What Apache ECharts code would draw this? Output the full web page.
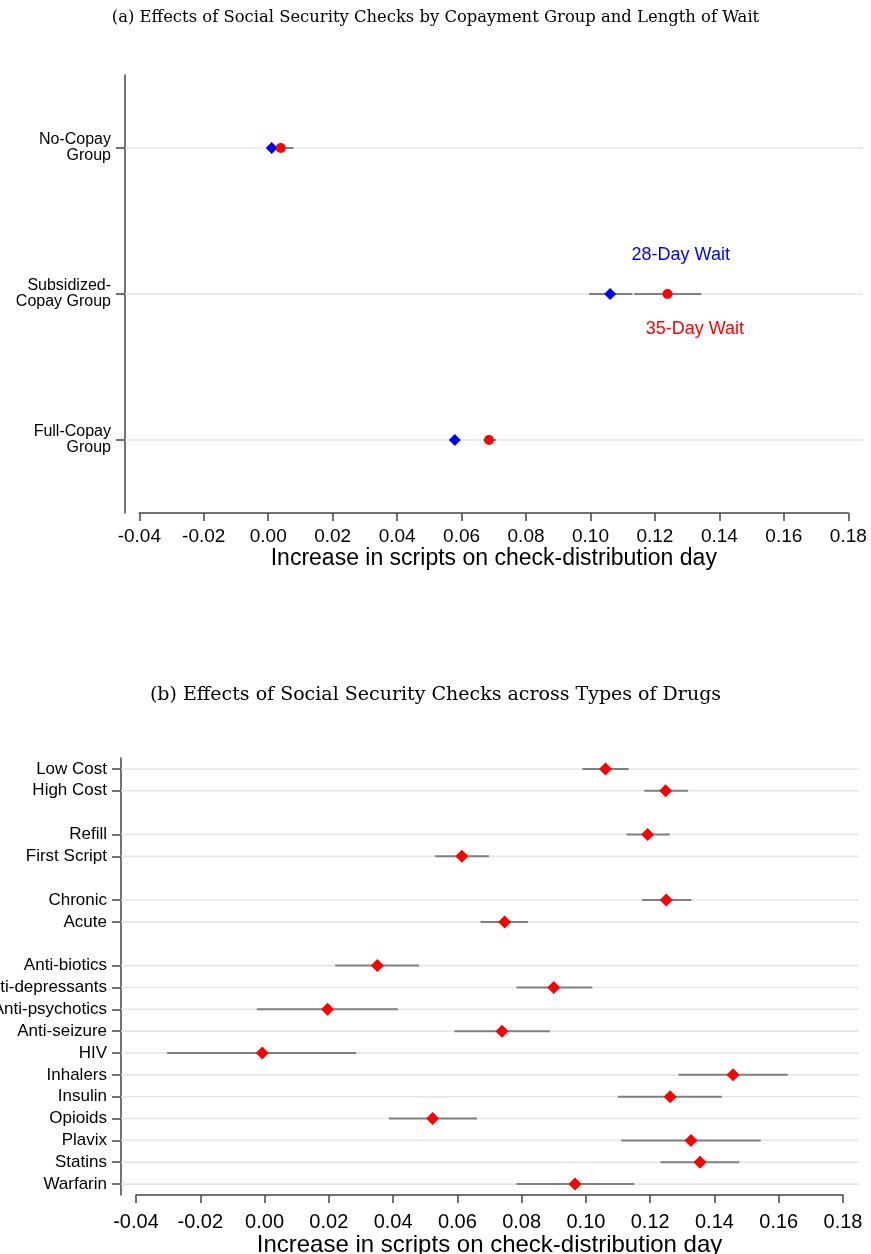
<!DOCTYPE html>
<html>
<head>
<meta charset="utf-8">
<script src="https://cdn.jsdelivr.net/npm/echarts@6/dist/echarts.min.js"></script>
<style>
  html, body { margin: 0; padding: 0; background: #fff; }
  #main { width: 871px; height: 1254px; }
</style>
</head>
<body>
<div id="main"></div>
<script>
// panel (a): copayment groups, two waiting lengths
var groupNames = ['No-Copay\nGroup', 'Subsidized-\nCopay Group', 'Full-Copay\nGroup'];
var wait28 = [0.0011, 0.1061, 0.0579];
var wait28Lo = [-0.0003, 0.0996, 0.0565];
var wait28Hi = [0.0025, 0.1130, 0.0593];
var wait35 = [0.0039, 0.1239, 0.0685];
var wait35Lo = [-0.0001, 0.1136, 0.0668];
var wait35Hi = [0.0078, 0.1344, 0.0707];
var waitLabels = ['28-Day Wait', '35-Day Wait'];
var waitLabelX = [0.128, 0.1324];
var waitLabelY = [0.73, 1.24];   // in row units, between category rows

// panel (b): drug types (blank names are spacer rows)
var drugNames = ['Low Cost', 'High Cost', '', 'Refill', 'First Script', ' ', 'Chronic', 'Acute', '  ',
    'Anti-biotics', 'Anti-depressants', 'Anti-psychotics', 'Anti-seizure', 'HIV', 'Inhalers',
    'Insulin', 'Opioids', 'Plavix', 'Statins', 'Warfarin'];
var drugEst = [0.1061, 0.1248, null, 0.1192, 0.0614, null, 0.1250, 0.0747, null,
    0.0351, 0.0900, 0.0196, 0.0739, -0.0007, 0.1458, 0.1262, 0.0523, 0.1327, 0.1355, 0.0966];
var drugLo = [0.0989, 0.1182, null, 0.1126, 0.0531, null, 0.1175, 0.0672, null,
    0.0220, 0.0784, -0.0024, 0.0591, -0.0303, 0.1288, 0.1099, 0.0387, 0.1110, 0.1232, 0.0784];
var drugHi = [0.1133, 0.1318, null, 0.1261, 0.0698, null, 0.1328, 0.0820, null,
    0.0481, 0.1020, 0.0415, 0.0888, 0.0285, 0.1628, 0.1423, 0.0661, 0.1544, 0.1477, 0.1150];

var xMin = -0.04, xMax = 0.18;
var xTitle = 'Increase in scripts on check-distribution day';
var axisColor = '#444';

var chart = echarts.init(document.getElementById('main'));

function isRow(name) { return name.trim() !== ''; }

// light horizontal rule through each labelled row, running past the plot edges
function gridRows(names, padL, padR) {
    var rows = [];
    names.forEach(function(n, i) { if (isRow(n)) rows.push([xMin, xMax, i]); });
    return {
        rows: rows,
        render: function(params, api) {
            var a = api.coord([api.value(0), api.value(2)]);
            var b = api.coord([api.value(1), api.value(2)]);
            return {
                type: 'line',
                shape: { x1: a[0] - padL, y1: a[1], x2: b[0] + padR, y2: b[1] },
                style: { stroke: '#e6e6e6', lineWidth: 1.6 }
            };
        }
    };
}

function ciRender(params, api) {
    var a = api.coord([api.value(0), api.value(2)]);
    var b = api.coord([api.value(1), api.value(2)]);
    return {
        type: 'line',
        shape: { x1: a[0], y1: a[1], x2: b[0], y2: b[1] },
        style: { stroke: '#808080', lineWidth: 2 }
    };
}

function ciData(lo, hi) {
    var out = [];
    lo.forEach(function(v, i) { if (v != null) out.push([v, hi[i], i]); });
    return out;
}

function pts(est) {
    var out = [];
    est.forEach(function(v, i) { if (v != null) out.push([v, i]); });
    return out;
}

var topGrid = gridRows(groupNames, 14.3, 14.7);
var botGrid = gridRows(drugNames, 15, 16);

var option = {
    animation: false,
    backgroundColor: '#fff',
    title: [
        {
            text: '(a) Effects of Social Security Checks by Copayment Group and Length of Wait',
            left: 'center', top: 5,
            textStyle: { fontFamily: 'DejaVu Serif', fontWeight: 'normal', fontSize: 16.4, color: '#000' }
        },
        {
            text: '(b) Effects of Social Security Checks across Types of Drugs',
            left: 'center', top: 681,
            textStyle: { fontFamily: 'DejaVu Serif', fontWeight: 'normal', fontSize: 19, color: '#000' }
        }
    ],
    // long labels may run off the left edge, as in the original
    grid: [
        { left: 139.3, right: 22.7, top: 75, height: 438, outerBoundsMode: 'none' },
        { left: 136, right: 28, top: 758, height: 437, outerBoundsMode: 'none' }
    ],
    xAxis: [0, 1].map(function(g) {
        return {
            type: 'value', gridIndex: g, min: xMin, max: xMax, interval: 0.02,
            name: xTitle, nameLocation: 'middle', nameGap: g === 0 ? 31 : 35,
            nameTextStyle: { fontFamily: 'Liberation Sans', fontSize: g === 0 ? 23 : 24, color: '#000' },
            axisLine: { show: true, onZero: false, lineStyle: { color: axisColor, width: 1.5 } },
            axisTick: { show: true, length: 8, lineStyle: { color: axisColor, width: 1.5 } },
            axisLabel: {
                fontFamily: 'Liberation Sans', fontSize: g === 0 ? 19 : 20, color: '#000',
                margin: g === 0 ? 14 : 17,
                formatter: function(v) { return v.toFixed(2); }
            },
            splitLine: { show: false }
        };
    }),
    yAxis: [
        {
            type: 'category', gridIndex: 0, data: groupNames, inverse: true, offset: 14.3,
            axisLine: { show: true, onZero: false, lineStyle: { color: axisColor, width: 1.5 } },
            axisTick: { show: true, alignWithLabel: true, length: 9, lineStyle: { color: axisColor, width: 1.5 } },
            axisLabel: { interval: 0, fontFamily: 'Liberation Sans', fontSize: 16, lineHeight: 16, color: '#000', margin: 14, align: 'right' },
            splitLine: { show: false }
        },
        {
            type: 'category', gridIndex: 1, data: drugNames, inverse: true, offset: 15,
            axisLine: { show: true, onZero: false, lineStyle: { color: axisColor, width: 1.5 } },
            axisTick: {
                show: true, alignWithLabel: true, length: 9,
                interval: function(i, v) { return isRow(v); },
                lineStyle: { color: axisColor, width: 1.5 }
            },
            axisLabel: { interval: 0, fontFamily: 'Liberation Sans', fontSize: 17, color: '#000', margin: 14 },
            splitLine: { show: false }
        }
    ],
    series: [
        // panel (a)
        { type: 'custom', xAxisIndex: 0, yAxisIndex: 0, z: 1, silent: true,
          renderItem: topGrid.render, encode: { x: [0, 1], y: 2 }, data: topGrid.rows },
        { type: 'custom', xAxisIndex: 0, yAxisIndex: 0, z: 2, silent: true,
          renderItem: ciRender, encode: { x: [0, 1], y: 2 }, data: ciData(wait28Lo, wait28Hi) },
        { type: 'custom', xAxisIndex: 0, yAxisIndex: 0, z: 2, silent: true,
          renderItem: ciRender, encode: { x: [0, 1], y: 2 }, data: ciData(wait35Lo, wait35Hi) },
        { type: 'scatter', name: '28-Day Wait', xAxisIndex: 0, yAxisIndex: 0, z: 3,
          symbol: 'diamond', symbolSize: 12, itemStyle: { color: '#0000ff', opacity: 1 }, data: pts(wait28) },
        { type: 'scatter', name: '35-Day Wait', xAxisIndex: 0, yAxisIndex: 0, z: 4,
          symbol: 'circle', symbolSize: 10, itemStyle: { color: '#ff0000', opacity: 1 }, data: pts(wait35) },
        { type: 'custom', xAxisIndex: 0, yAxisIndex: 0, z: 5, silent: true,
          encode: { x: 0, y: 1 },
          data: waitLabels.map(function(t, i) { return [waitLabelX[i], waitLabelY[i]]; }),
          renderItem: function(params, api) {
              // category axis snaps to whole rows, so interpolate between neighbours
              var x = api.value(0), r = api.value(1);
              var r0 = Math.floor(r), f = r - r0;
              var a = api.coord([x, r0]), b = api.coord([x, r0 + 1]);
              return {
                  type: 'text',
                  style: {
                      x: a[0], y: a[1] + f * (b[1] - a[1]), text: waitLabels[params.dataIndex],
                      fill: params.dataIndex === 0 ? '#0000ff' : '#ff0000',
                      font: '18px "Liberation Sans"', align: 'center', verticalAlign: 'middle'
                  }
              };
          } },
        // panel (b)
        { type: 'custom', xAxisIndex: 1, yAxisIndex: 1, z: 1, silent: true,
          renderItem: botGrid.render, encode: { x: [0, 1], y: 2 }, data: botGrid.rows },
        { type: 'custom', xAxisIndex: 1, yAxisIndex: 1, z: 2, silent: true,
          renderItem: ciRender, encode: { x: [0, 1], y: 2 }, data: ciData(drugLo, drugHi) },
        { type: 'scatter', xAxisIndex: 1, yAxisIndex: 1, z: 3,
          symbol: 'diamond', symbolSize: 13, itemStyle: { color: '#ff0000', opacity: 1 }, data: pts(drugEst) }
    ]
};
chart.setOption(option);
</script>
</body>
</html>
